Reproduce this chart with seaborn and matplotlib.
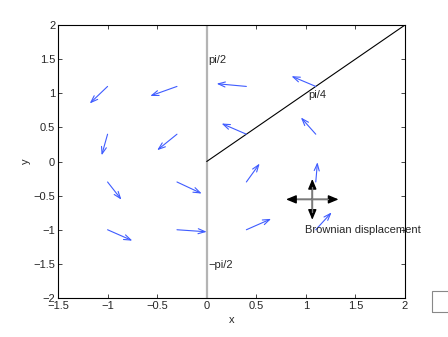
import numpy as np
import matplotlib
matplotlib.use("Agg")
import matplotlib.pyplot as plt
import seaborn as sns
import pandas as pd
from matplotlib.patches import Rectangle

# grid of arrow tails
x_grid = [-1.0, -0.3, 0.4, 1.1]
y_grid = [1.1, 0.4, -0.3, -1.0]
# arrow components (rows follow y_grid, columns follow x_grid)
u_vals = [[-0.18, -0.27, -0.30, -0.245],
          [-0.06, -0.20, -0.25, -0.15],
          [0.14, 0.25, 0.134, 0.017],
          [0.25, 0.30, 0.25, 0.16]]
v_vals = [[-0.25, -0.14, 0.04, 0.15],
          [-0.31, -0.235, 0.157, 0.245],
          [-0.26, -0.17, 0.27, 0.29],
          [-0.16, -0.03, 0.16, 0.255]]

diag_x = [0, 2]
diag_y = [0, 2]
labels = ["pi/2", "pi/4", "\u2212pi/2", "Brownian displacement"]
label_pos = [(0.02, 1.48), (1.02, 0.98), (0.02, -1.52), (0.99, -1.01)]
cross_center = (1.065, -0.555)
cross_half = (0.265, 0.30)

sns.set_style("white")
plt.rcParams['font.family'] = ['Liberation Sans', 'DejaVu Sans']

fig = plt.figure(figsize=(4.48, 3.37), dpi=100)
ax = fig.add_axes([58/448, 1 - 298/337, (405 - 58)/448, (298 - 25)/337])

ax.plot([0, 0], [-2, 2], color="#b4b4b4", lw=1.6, zorder=1)
sns.lineplot(x=diag_x, y=diag_y, ax=ax, color="black", lw=0.8, zorder=2)

blue = "#3f5cff"
for i, yy in enumerate(y_grid):
    for j, xx in enumerate(x_grid):
        ax.annotate("", xy=(xx + u_vals[i][j], yy + v_vals[i][j]), xytext=(xx, yy),
                    arrowprops=dict(arrowstyle="->,head_length=0.5,head_width=0.18",
                                    color=blue, lw=0.8, shrinkA=0, shrinkB=0))

cx, cy = cross_center
hx, hy = cross_half
for (x0, y0, x1, y1) in [(cx - hx, cy, cx + hx, cy), (cx, cy - hy, cx, cy + hy)]:
    ax.annotate("", xy=(x1, y1), xytext=(x0, y0),
                arrowprops=dict(arrowstyle="<|-|>,head_length=0.6,head_width=0.25",
                                color="black", lw=1.0, shrinkA=0, shrinkB=0))
ax.plot([cx - hx * 0.6, cx + hx * 0.6], [cy, cy], color="#7a7a7a", lw=1.0, zorder=5)
ax.plot([cx, cx], [cy - hy * 0.6, cy + hy * 0.6], color="#7a7a7a", lw=1.0, zorder=5)

for t, (px, py) in zip(labels, label_pos):
    ax.text(px, py, t, fontsize=8, va="center", ha="left", clip_on=False)

ax.set_xlim(-1.5, 2)
ax.set_ylim(-2, 2)
ax.set_xticks([-1.5, -1, -0.5, 0, 0.5, 1, 1.5, 2])
ax.set_xticklabels(["\u22121.5", "\u22121", "\u22120.5", "0", "0.5", "1", "1.5", "2"])
ax.set_yticks([-2, -1.5, -1, -0.5, 0, 0.5, 1, 1.5, 2])
ax.set_yticklabels(["\u22122", "\u22121.5", "\u22121", "\u22120.5", "0", "0.5", "1", "1.5", "2"])
ax.tick_params(direction="in", length=3, width=0.6, labelsize=8, top=True, right=True,
               bottom=True, left=True, pad=2)
ax.tick_params(axis="x", pad=2)
for s in ax.spines.values():
    s.set_color("black")
    s.set_linewidth(0.8)
ax.set_xlabel("x", fontsize=8, labelpad=3)
ax.set_ylabel("y", fontsize=8, labelpad=2)

fig.patches.append(Rectangle((432/448, 1 - 312/337), 20/448, 21/337,
                             transform=fig.transFigure, fill=False,
                             edgecolor="#888888", lw=0.8))

fig.savefig("out.png", dpi=100)
